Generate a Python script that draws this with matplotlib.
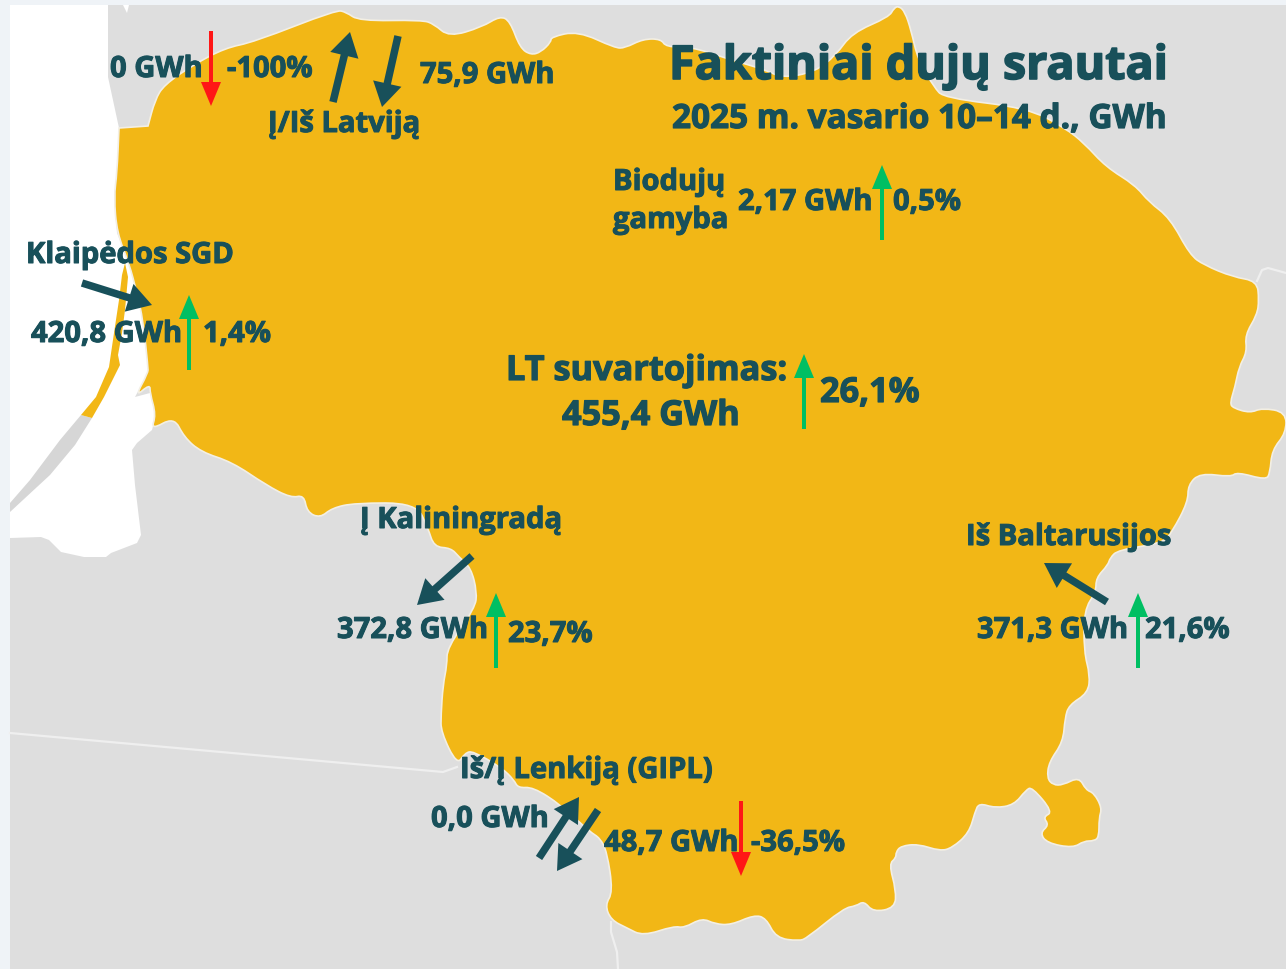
import matplotlib
matplotlib.use("Agg")
import matplotlib.pyplot as plt
import matplotlib.patheffects as pe
from matplotlib.path import Path
from matplotlib.patches import Polygon, PathPatch, Rectangle, FancyArrow

plt.rcParams["font.family"] = ["Open Sans", "DejaVu Sans"]

# Data: flows in GWh and change in percent
flow_names = ["Biodujos", "Klaipeda", "Latvia in", "Latvia out", "Consumption",
              "Kaliningrad", "Belarus", "Poland in", "Poland out"]
flow_gwh = ["2,17", "420,8", "0", "75,9", "455,4", "372,8", "371,3", "0,0", "48,7"]
change_names = ["Biodujos", "Klaipeda", "Latvia in", "Consumption", "Kaliningrad", "Belarus", "Poland out"]
change_pct = [0.5, 1.4, -100, 26.1, 23.7, 21.6, -36.5]

DARK = "#18505a"
YELLOW = "#f2b716"
GREY = "#dedede"
GREEN = "#00bf63"
RED = "#ff1616"
PAGE = "#eff3f7"

# Map outlines, in picture pixels
lithuania = [
    (119, 128), (119, 128), (148, 126), (148, 126), (155, 100), (164, 85), (193, 65), (225, 48), (254, 42), (336, 10), (346, 12),
    (359, 21), (422, 20), (434, 24), (449, 37), (482, 27), (500, 16), (510, 21), (520, 48), (531, 55),
    (541, 52), (551, 42), (551, 37), (578, 31), (615, 48), (625, 48), (643, 39), (661, 39), (666, 47),
    (692, 47), (725, 58), (766, 70), (782, 78), (815, 72), (836, 55), (852, 33), (889, 17), (894, 8),
    (899, 6), (905, 12), (911, 30), (918, 60), (934, 87), (944, 98), (1028, 108), (1065, 128), (1084, 143),
    (1106, 167), (1135, 185), (1149, 202), (1170, 218), (1190, 255), (1204, 265), (1233, 277), (1257, 281),
    (1259, 300), (1257, 315), (1245, 335), (1247, 352), (1239, 367), (1235, 387), (1230, 403), (1233, 408),
    (1250, 413), (1262, 408), (1286, 412), (1286, 433), (1272, 450), (1270, 473), (1266, 480), (1237, 472),
    (1231, 477), (1200, 473), (1188, 485), (1188, 502), (1172, 532), (1163, 543), (1118, 550), (1110, 558),
    (1108, 565), (1096, 578), (1096, 592), (1084, 610), (1084, 652), (1090, 675), (1088, 693), (1069, 705),
    (1065, 718), (1063, 742), (1049, 762), (1047, 778), (1053, 785), (1063, 785), (1079, 777), (1086, 790),
    (1094, 793), (1102, 808), (1099, 818), (1099, 837), (1094, 841), (1084, 841), (1073, 848), (1047, 843),
    (1040, 833), (1049, 825), (1043, 817), (1053, 812), (1032, 787), (1026, 790), (1014, 805), (995, 808),
    (979, 803), (975, 812), (969, 833), (952, 848), (940, 851), (918, 844), (901, 846), (896, 852),
    (896, 858), (889, 864), (896, 890), (895, 908), (873, 912), (864, 901), (856, 906), (844, 908),
    (807, 938), (799, 941), (776, 938), (766, 918), (754, 915), (731, 925), (715, 924), (702, 918),
    (684, 928), (674, 926), (643, 936), (627, 928), (611, 920), (605, 905), (613, 892), (607, 852),
    (600, 838), (590, 832), (561, 805), (533, 787), (518, 788), (514, 780), (502, 768), (473, 751),
    (465, 753), (457, 765), (441, 732), (441, 715), (443, 685), (447, 665), (447, 648), (475, 608),
    (477, 592), (471, 568), (459, 557), (451, 548), (434, 547), (428, 528), (416, 503), (355, 503),
    (332, 508), (320, 518), (307, 512), (304, 495), (291, 498), (266, 485), (232, 462), (201, 452),
    (184, 437), (174, 417), (151, 430), (156, 415), (150, 393), (150, 384), (135, 397), (148, 373), (148, 367),
    (143, 320), (137, 293), (129, 263), (117, 233), (114, 197), (117, 173),
]
curonian_spit = [(125, 263), (128, 277), (125, 310), (122, 333), (118, 355), (120, 365), (104, 397), (92, 418),
                 (81, 415), (96, 397), (109, 367), (114, 333), (119, 300), (122, 275)]
sea = [(10, 5), (108, 5), (108, 77), (119, 128), (117, 173), (114, 197), (117, 233),
       (129, 263), (137, 293), (143, 320), (148, 367), (148, 373), (135, 397), (150, 393), (156, 415), (152, 430),
       (137, 443), (132, 450), (135, 485), (141, 535), (137, 543), (111, 553), (106, 557), (84, 557), (61, 552),
       (49, 540), (41, 537), (10, 538)]
notch = [(123, 5), (127, 13), (129, 5)]
spit_south = [(81, 415), (92, 418), (75, 445), (50, 475), (37, 487), (10, 512), (10, 503), (30, 480), (60, 440)]
border_poland = [(10, 733), (443, 772), (457, 767)]
border_south = [(611, 922), (611, 932), (617, 952), (618, 969)]
border_east = [(1257, 281), (1262, 270), (1268, 268), (1286, 273)]


def rounded(points):
    # closed path through the edge midpoints, the traced points act as curve controls
    mids = [((a[0] + b[0]) / 2, (a[1] + b[1]) / 2) for a, b in zip(points, points[1:] + points[:1])]
    verts = [mids[-1]]
    codes = [Path.MOVETO]
    for i, ctrl in enumerate(points):
        verts += [ctrl, mids[i]]
        codes += [Path.CURVE3, Path.CURVE3]
    return Path(verts, codes)


fig = plt.figure(figsize=(12.86, 9.69), dpi=100, facecolor=PAGE)
ax = fig.add_axes([0, 0, 1, 1])
ax.set_xlim(0, 1286)
ax.set_ylim(969, 0)
ax.axis("off")

ax.add_patch(Rectangle((10, 5), 1276, 964, facecolor=GREY, edgecolor="none"))
ax.add_patch(Polygon(sea, facecolor="white", edgecolor="none"))
ax.add_patch(Polygon(notch, facecolor="white", edgecolor="none"))
ax.add_patch(Polygon(spit_south, facecolor="#d6d6d6", edgecolor="none"))
for line in [border_poland, border_south, border_east]:
    ax.plot([p[0] for p in line], [p[1] for p in line], color="#efefef", lw=1.6)
ax.add_patch(PathPatch(rounded(lithuania), facecolor=YELLOW, edgecolor="#f3efe4", lw=1.2))
ax.add_patch(Polygon(curonian_spit, facecolor=YELLOW, edgecolor="none"))

# Flow direction arrows: tail x, tail y, head x, head y
flow_arrows = [(333, 102, 350, 32), (398, 36, 382, 107), (82, 283, 152, 305), (472, 556, 417, 605),
               (1107, 602, 1044, 563), (539, 858, 579, 797), (598, 810, 557, 871)]
for x0, y0, x1, y1 in flow_arrows:
    ax.add_patch(FancyArrow(x0, y0, x1 - x0, y1 - y0, width=7.5, head_width=29, head_length=24,
                            length_includes_head=True, facecolor=DARK, edgecolor="none"))

# Change arrows: the sign of the change picks direction and colour
change_x = [882, 189, 211, 804, 496, 1138, 741]
change_top = [165, 295, 31, 354, 593, 593, 801]
for x, top, pct in zip(change_x, change_top, change_pct):
    rising = pct > 0
    y0, y1 = (top + 75, top) if rising else (top, top + 75)
    ax.add_patch(FancyArrow(x, y0, 0, y1 - y0, width=4, head_width=20, head_length=24,
                            length_includes_head=True, facecolor=GREEN if rising else RED, edgecolor="none"))


def pct_label(name):
    pct = change_pct[change_names.index(name)]
    if name == "Latvia in":
        return "-100%"
    return f"{pct}%".replace(".", ",")


def gwh_label(name):
    return flow_gwh[flow_names.index(name)] + " GWh"


def label(x, y, text, size=21):
    t = ax.text(x, y, text, color=DARK, fontsize=size, fontweight="bold", ha="left", va="baseline")
    # Open Sans has no extra bold cut installed, so thicken the bold
    t.set_path_effects([pe.withStroke(linewidth=size * 0.035, foreground=DARK)])


label(669, 79, "Faktiniai dujų srautai", 33.6)
label(672, 128, "2025 m. vasario 10–14 d., GWh", 24)
label(613, 190, "Biodujų")
label(613, 228, "gamyba")
label(738, 210, gwh_label("Biodujos"))
label(893, 210, pct_label("Biodujos"))
label(506, 380, "LT suvartojimas:", 24.7)
label(562, 425, gwh_label("Consumption"), 24.7)
label(820, 402, pct_label("Consumption"), 24.7)
label(26, 263, "Klaipėdos SGD")
label(31, 342, gwh_label("Klaipeda"))
label(203, 342, pct_label("Klaipeda"))
label(110, 77, gwh_label("Latvia in"))
label(227, 77, pct_label("Latvia in"))
label(420, 83, gwh_label("Latvia out"))
label(268, 132, "Į/Iš Latviją")
label(360, 528, "Į Kaliningradą")
label(337, 638, gwh_label("Kaliningrad"))
label(508, 642, pct_label("Kaliningrad"))
label(966, 545, "Iš Baltarusijos")
label(977, 638, gwh_label("Belarus"))
label(1145, 638, pct_label("Belarus"))
label(460, 778, "Iš/Į Lenkiją (GIPL)")
label(431, 827, gwh_label("Poland in"))
label(604, 851, gwh_label("Poland out"))
label(751, 851, pct_label("Poland out"))

fig.savefig("out.png", dpi=100, facecolor=fig.get_facecolor())
